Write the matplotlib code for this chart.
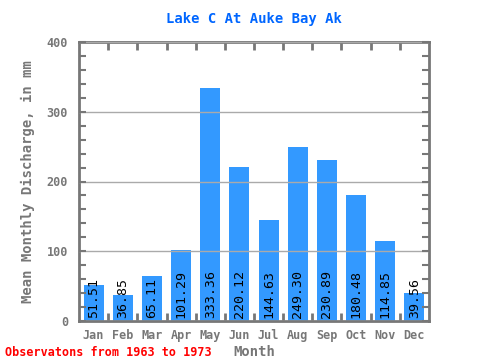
import matplotlib
matplotlib.use("Agg")
import matplotlib.pyplot as plt
from matplotlib.ticker import MultipleLocator

# data
months = ["Jan", "Feb", "Mar", "Apr", "May", "Jun", "Jul", "Aug", "Sep", "Oct", "Nov", "Dec"]
discharge = [51.51, 36.85, 65.11, 101.29, 333.36, 220.12, 144.63, 249.30, 230.89, 180.48, 114.85, 39.56]
title = "Lake C At Auke Bay Ak"
ylabel = "Mean Monthly Discharge, in mm"
xlabel = "Month"
note = "Observatons from 1963 to 1973"

grey = "#777777"
mono = "DejaVu Sans Mono"

fig = plt.figure(figsize=(4.8, 3.6), dpi=100)
ax = fig.add_axes([79/480, 39/360, 350/480, 279/360])

x = list(range(len(months)))
ax.bar(x, discharge, width=0.69, color="#3399ff", zorder=2)
ax.set_xlim(-0.5, 11.5)
ax.set_ylim(0, 400)

# grid over bars
ax.yaxis.set_major_locator(MultipleLocator(100))
ax.yaxis.set_minor_locator(MultipleLocator(20))
ax.grid(axis="y", which="major", color="#aaaaaa", linewidth=1, zorder=3)
ax.set_axisbelow(False)

ax.set_xticks([i + 0.5 for i in x[:-1]])
ax.set_xticklabels([])
ax.set_xticks(x, minor=True)
ax.set_xticklabels(months, minor=True, fontsize=8.5, family=mono, fontweight="bold", color=grey)
ax.tick_params(axis="x", which="minor", length=0, pad=6)
ax.tick_params(axis="x", which="major", direction="in", length=6, width=2, color=grey, top=True)
ax.tick_params(axis="y", which="both", direction="in", length=5, width=1.5, color=grey, right=True)
ax.tick_params(axis="y", which="major", labelsize=8.5, labelcolor=grey, pad=8)
for lab in ax.get_yticklabels():
    lab.set_family(mono)
    lab.set_fontweight("bold")

for s in ax.spines.values():
    s.set_color(grey)
    s.set_linewidth(2)

for xi, v in zip(x, discharge):
    ax.text(xi, 4, f"{v:.2f}", rotation=90, ha="center", va="bottom",
            fontsize=9.5, family=mono, color="black", zorder=4)

ax.set_title(title, color="#0066ff", fontsize=10, family=mono, fontweight="bold", pad=14)
ax.set_ylabel(ylabel, color=grey, fontsize=10, family=mono, fontweight="bold", labelpad=8)
ax.set_xlabel(xlabel, color=grey, fontsize=10, family=mono, fontweight="bold", labelpad=2)
fig.text(5/480, 1 - 352/360, note, color="red", fontsize=8.5, family=mono,
         fontweight="bold", va="center", ha="left")

fig.savefig("out.png", dpi=100)
